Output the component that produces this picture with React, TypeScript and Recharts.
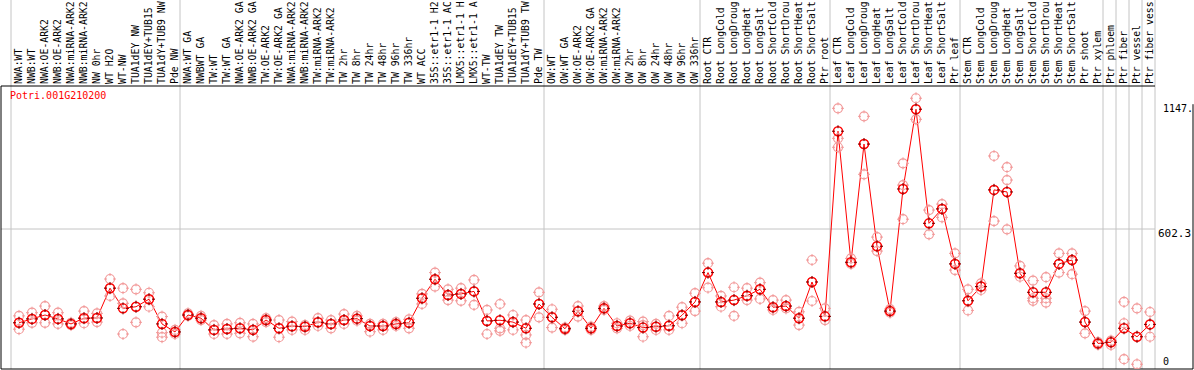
import { ComposedChart, Line, XAxis, YAxis, ReferenceLine } from 'recharts'

const GENE = 'Potri.001G210200'

// sample names as far as they show above the plot
const SAMPLES = [
  'NWA:WT', 'NWB:WT', 'NWA:OE-ARK2', 'NWB:OE-ARK2', 'NWA:miRNA-ARK2', 'NWB:miRNA-ARK2', 'NW 0hr', 'WT H2O',
  'WT-NW', 'TUA1dEY NW', 'TUA1dEY+TUB15', 'TUA1dY+TUB9 NW', 'Pde NW',
  'NWA:WT GA', 'NWBWT GA', 'TW:WT', 'TW:WT GA', 'NWA:OE-ARK2 GA', 'NWB:OE-ARK2 GA', 'TW:OE-ARK2', 'TW:OE-ARK2 GA',
  'NWA:miRNA-ARK2', 'NWB:miRNA-ARK2', 'TW:miRNA-ARK2', 'TW:miRNA-ARK2', 'TW 2hr', 'TW 8hr', 'TW 24hr',
  'TW 48hr', 'TW 96hr', 'TW 336hr', 'WT ACC', '35S::etr1-1 H2', '35S::etr1-1 AC', 'LMX5::etr1-1 H',
  'LMX5::etr1-1 A', 'WT-TW', 'TUA1dEY TW', 'TUA1dEY+TUB15', 'TUA1dY+TUB9 TW', 'Pde TW',
  'OW:WT', 'OW:WT GA', 'OW:OE-ARK2', 'OW:OE-ARK2 GA', 'OW:miRNA-ARK2', 'OW:miRNA-ARK2', 'OW 2hr', 'OW 8hr',
  'OW 24hr', 'OW 48hr', 'OW 96hr', 'OW 336hr',
  'Root CTR', 'Root LongCold', 'Root LongDroug', 'Root LongHeat', 'Root LongSalt', 'Root ShortCold',
  'Root ShortDrou', 'Root ShortHeat', 'Root ShortSalt', 'Ptr root',
  'Leaf CTR', 'Leaf LongCold', 'Leaf LongDroug', 'Leaf LongHeat', 'Leaf LongSalt', 'Leaf ShortCold',
  'Leaf ShortDrou', 'Leaf ShortHeat', 'Leaf ShortSalt', 'Ptr leaf',
  'Stem CTR', 'Stem LongCold', 'Stem LongDroug', 'Stem LongHeat', 'Stem LongSalt', 'Stem ShortCold',
  'Stem ShortDrou', 'Stem ShortHeat', 'Stem ShortSalt', 'Ptr shoot', 'Ptr xylem', 'Ptr phloem', 'Ptr fiber',
  'Ptr vessel', 'Ptr fiber vess',
]

const MEAN = [
  193, 210, 227, 210, 188, 213, 214, 344, 256, 263, 296, 188, 153,
  227, 213, 162, 166, 169, 162, 205, 169, 178, 176, 195, 188, 205, 211, 179, 179, 188, 193, 300, 383, 314, 319,
  330, 201, 204, 196, 169, 275,
  217, 167, 243, 169, 256, 179, 191, 172, 176, 180, 226, 284,
  412, 284, 292, 311, 339, 261, 266, 213, 371, 221,
  1029, 457, 973, 527, 244, 777, 1125, 627, 690, 450,
  289, 351, 773, 764, 409, 326, 326, 450, 467, 196, 103, 108, 169, 132, 186,
]

// replicate samples
const REP_A = [
  223, 237, 266, 237, 193, 244, 234, 384, 344, 339, 324, 220, 162,
  234, 223, 183, 188, 193, 188, 213, 205, 198, 183, 213, 205, 231, 223, 188, 188, 196, 208, 319, 412, 339, 344,
  380, 249, 275, 227, 205, 326,
  252, 172, 266, 176, 266, 191, 202, 198, 188, 223, 261, 322,
  453, 310, 348, 344, 368, 292, 292, 241, 467, 256,
  1129, 474, 1094, 567, 253, 889, 1173, 685, 711, 496,
  339, 365, 921, 872, 441, 377, 392, 496, 496, 244, 109, 115, 284, 256, 240,
]
const REP_B = [
  193, 210, 227, 210, 188, 214, 214, 345, 278, 263, 296, 150, 153,
  227, 213, 162, 166, 169, 162, 205, 169, 178, 176, 195, 188, 205, 211, 179, 179, 188, 193, 300, 383, 314, 319,
  330, 201, 169, 196, 140, 275,
  217, 167, 243, 169, 256, 179, 191, 183, 176, 180, 226, 284,
  412, 284, 292, 311, 339, 261, 266, 213, 371, 221,
  998, 457, 973, 527, 244, 794, 1125, 627, 690, 450,
  289, 351, 773, 816, 409, 300, 300, 450, 467, 196, 103, 108, 191, 132, 186,
]
const REP_C = [
  165, 193, 193, 188, 183, 191, 196, 310, 144, 195, 263, 130, 144,
  223, 205, 144, 144, 147, 132, 196, 130, 162, 162, 179, 169, 188, 202, 154, 162, 179, 169, 275, 351, 292, 289,
  271, 144, 158, 162, 106, 217,
  172, 162, 220, 162, 249, 169, 179, 132, 162, 162, 191, 244,
  346, 263, 223, 292, 297, 249, 256, 183, 288, 205,
  959, 450, 841, 506, 237, 645, 1081, 579, 653, 423,
  247, 336, 637, 601, 394, 289, 281, 412, 405, 147, 98, 96, 34, 12, 132,
]

// first sample index of each block (separators sit just left of these)
const GROUP_STARTS = [0, 13, 41, 53, 63, 73, 84, 85, 86, 87, 88]
const Y_TICKS = [0, 602.3, 1147]

// 13px per sample, first sample 18px into the plot
const X_MIN = -18 / 13
const X_DOMAIN: [number, number] = [X_MIN, X_MIN + 1155 / 13]
const X_FRAME_RIGHT = X_MIN + 1192 / 13
const Y_DOMAIN: [number, number] = [-8.73, 1226.43]
const SEP_OFFSET = 8 / 13
const PAGE_TOP = 1602 // value at the very top of the picture, separators run up through the labels

const FONT = '"DejaVu Sans Mono", monospace'
const GRID = '#c4c4c4'

const rows = SAMPLES.map((name, i) => ({
  i, name, mean: MEAN[i], a: REP_A[i], b: REP_B[i], c: REP_C[i],
}))

function ring(cx: number, cy: number, color: string, tick: string, w: number) {
  const r = 4.5
  return (
    <>
      <circle cx={cx} cy={cy} r={r} fill="none" stroke={color} strokeWidth={w} />
      <path
        d={`M${cx},${cy - r - 1.5}v3M${cx},${cy + r - 1.5}v3M${cx - r - 1.5},${cy}h3M${cx + r - 1.5},${cy}h3`}
        stroke={tick} strokeWidth={1} />
    </>
  )
}

function MeanDot(p: any) {
  if (p.cx == null || p.cy == null) return <g key={p.key} />
  return <g key={p.key}>{ring(p.cx, p.cy, '#ff0000', '#700000', 1.5)}</g>
}

function RepDot(p: any) {
  if (p.cx == null || p.cy == null) return <g key={p.key} />
  return <g key={p.key}>{ring(p.cx, p.cy, '#f29a9a', '#f29a9a', 1.2)}</g>
}

function SampleTick(p: any) {
  const x = p.x + 3
  const y = p.y
  return (
    <text x={x} y={y} transform={`rotate(-90 ${x} ${y})`} textAnchor="start"
      fontFamily={FONT} fontSize={9.8} fill="#000">
      {SAMPLES[p.payload.value]}
    </text>
  )
}

function ValueTick(p: any) {
  const v = p.payload.value
  const x = v === 602.3 ? 1158 : 1163
  const y = v === 0 ? p.y - 1.5 : p.y + 8
  return (
    <text x={x} y={y} textAnchor="start" fontFamily={FONT} fontSize={v === 602.3 ? 11 : 10} fill="#000">
      {v === 1147 ? '1147.' : String(v)}
    </text>
  )
}

export default function App() {
  const lastSep = GROUP_STARTS[GROUP_STARTS.length - 1] - SEP_OFFSET
  return (
    <div style={{ position: 'absolute', left: 0, top: 0, width: 1194, height: 370, background: '#fff' }}>
      <ComposedChart width={1194} height={370} data={rows}
        margin={{ top: 0, right: 1, bottom: 1, left: 1 }}>
        <XAxis dataKey="i" type="number" orientation="top" domain={X_DOMAIN} allowDataOverflow
          ticks={rows.map(r => r.i)} interval={0} height={86} tickSize={0} tickMargin={2}
          axisLine={false} tickLine={false} tick={SampleTick} />
        <YAxis orientation="right" width={37} type="number" domain={Y_DOMAIN} allowDataOverflow
          ticks={Y_TICKS} interval={0} tickSize={0} axisLine={false} tickLine={false} tick={ValueTick} />

        {GROUP_STARTS.map(k => (
          <ReferenceLine key={k} ifOverflow="visible" stroke={GRID}
            segment={[{ x: k - SEP_OFFSET, y: Y_DOMAIN[0] }, { x: k - SEP_OFFSET, y: PAGE_TOP }]} />
        ))}
        <ReferenceLine stroke={GRID} ifOverflow="visible"
          segment={[{ x: X_DOMAIN[0], y: 602.3 }, { x: lastSep, y: 602.3 }]} />

        {/* frame */}
        <ReferenceLine stroke="#000" ifOverflow="visible"
          segment={[{ x: X_DOMAIN[0], y: Y_DOMAIN[1] }, { x: lastSep, y: Y_DOMAIN[1] }]} />
        <ReferenceLine stroke="#000" x={X_DOMAIN[0]} />
        <ReferenceLine stroke="#000" ifOverflow="visible"
          segment={[{ x: X_DOMAIN[0], y: Y_DOMAIN[0] }, { x: X_FRAME_RIGHT, y: Y_DOMAIN[0] }]} />
        <ReferenceLine stroke="#000" ifOverflow="visible"
          segment={[{ x: X_FRAME_RIGHT, y: Y_DOMAIN[0] }, { x: X_FRAME_RIGHT, y: 1147 }]} />

        {(['a', 'b', 'c'] as const).map(k => (
          <Line key={k} dataKey={k} stroke="none" dot={RepDot} activeDot={false}
            isAnimationActive={false} legendType="none" />
        ))}
        <Line dataKey="mean" stroke="#ff0000" strokeWidth={1} dot={MeanDot} activeDot={false}
          isAnimationActive={false} />
      </ComposedChart>
      <div style={{
        position: 'absolute', left: 10, top: 91, fontFamily: FONT, fontSize: 10,
        lineHeight: '10px', color: '#ff0000', whiteSpace: 'nowrap',
      }}>{GENE}</div>
    </div>
  )
}
